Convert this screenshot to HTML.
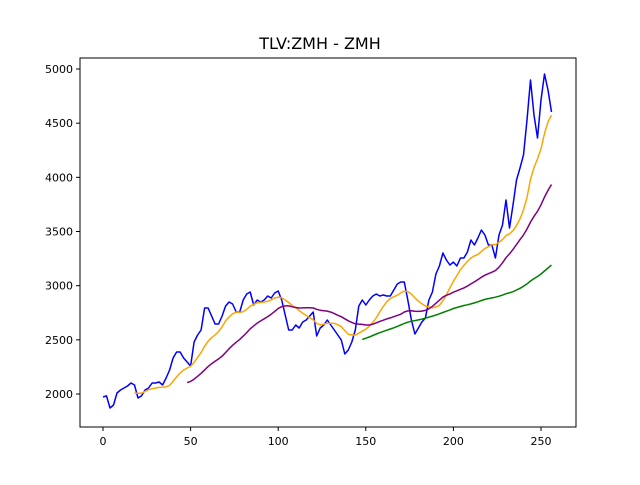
<!DOCTYPE html>
<html><head><meta charset="utf-8"><style>
body{margin:0;background:#fff;font-family:"Liberation Sans","DejaVu Sans",sans-serif}
</style></head><body>
<svg id="c" width="640" height="480" xmlns="http://www.w3.org/2000/svg" font-family="DejaVu Sans, Liberation Sans, sans-serif"></svg>
<script>
// closing price sampled every 2 days (day = index*2)
const priceY = [397,396,408,405,393,390,388,386,383,385,398,396,390,388,383,383,382,385,378,370,358,352,352,358,362,366,342,335,330,308,308,316,324,324,316,306,302,304,312,312,300,294,292,305,300,302,300,296,298,293,291,300,315,330,330,325,328,322,320,316,312,336,328,325,320,325,330,335,340,354,350,342,330,306,300,305,300,296,294,296,295,296,296,290,284,282,282,300,320,334,328,322,318,300,292,274,266,253,260,265,262,266,258,258,252,240,245,238,230,235,245,245,258,235,225,200,228,205,180,168,155,120,80,115,138,100,74,90,112];
const prices = priceY.map(p => Math.round(2000 + (394 - p) / 0.10833));
const xTicks = [0,50,100,150,200,250];
const yTicks = [2000,2500,3000,3500,4000,4500,5000];
const title = "TLV:ZMH - ZMH";
const maWindows = [10,25,75]; // 20, 50, 150 days
const maColors = ["orange","purple","green"];

const svg = document.getElementById('c');
const NS = "http://www.w3.org/2000/svg";
const L=80,R=576,T=58,B=427;
const X = v => 103 + v*1.752;
const Y = v => 394 - (v-2000)*0.10833;
function mk(tag, attrs, parent){const e=document.createElementNS(NS,tag);for(const k in attrs)e.setAttribute(k,attrs[k]);(parent||svg).appendChild(e);return e;}

const t = mk('text',{x:320,y:49,'text-anchor':'middle','font-size':16});


t.textContent = title;

const plot = mk('g',{});



function line(vals, startIdx, color, name){
  let d='';
  vals.forEach((v,i)=>{d+=(i?'L':'M')+X((startIdx+i)*2).toFixed(1)+','+Y(v).toFixed(1);});
  const p = mk('path',{d:d,fill:'none',stroke:color,'stroke-width':1.5,'stroke-linejoin':'round'},plot);
  
  
}
line(prices,0,'blue','price-line');
maWindows.forEach((w,k)=>{
  const out=[];
  for(let i=w-1;i<prices.length;i++){let s=0;for(let j=i-w+1;j<=i;j++)s+=prices[j];out.push(s/w);}
  line(out,w-1,maColors[k],'ma-line-'+(w*2));
});

const frame = mk('rect',{x:L,y:T,width:R-L,height:B-T,fill:'none',stroke:'#000','stroke-width':1});



xTicks.forEach(v=>{
  const x=X(v);
  const tk = mk('line',{x1:x,x2:x,y1:B,y2:B+4,stroke:'#000'});
  
  
  const lb = mk('text',{x:x,y:B+18,'text-anchor':'middle','font-size':11});
  
  
  lb.textContent=v;
});
yTicks.forEach(v=>{
  const y=Y(v);
  const tk = mk('line',{x1:L-4,x2:L,y1:y,y2:y,stroke:'#000'});
  
  
  const lb = mk('text',{x:L-7,y:y+4,'text-anchor':'end','font-size':11});
  
  
  lb.textContent=v;
});
</script>
</body></html>
